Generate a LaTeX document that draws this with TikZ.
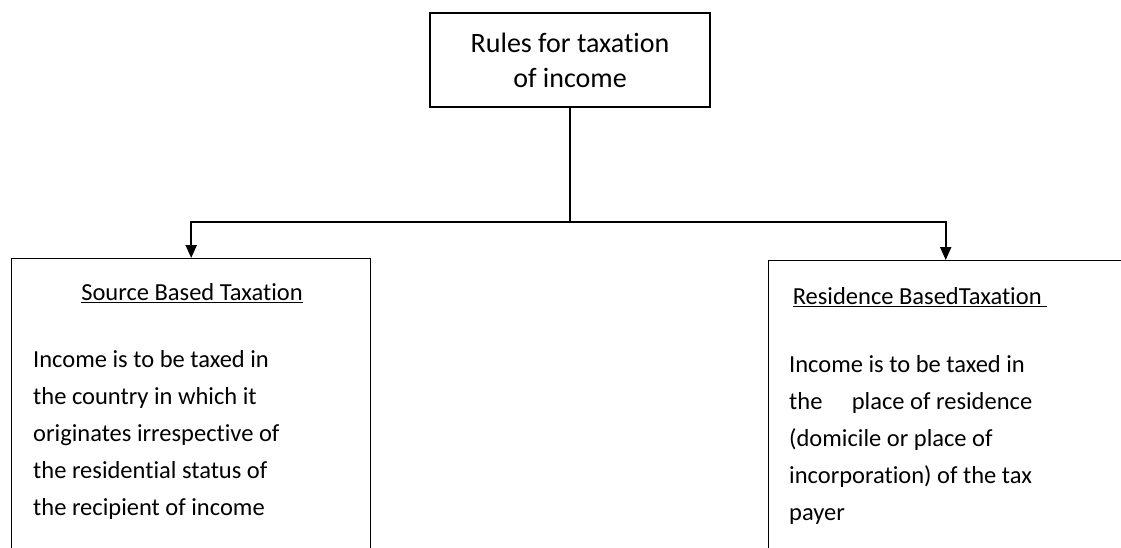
\documentclass[tikz,border=0pt]{standalone}
\usepackage{fontspec}
\setmainfont{Carlito}[Ligatures=NoCommon]
\usepackage{tikz}
\usetikzlibrary{arrows.meta,positioning}

\tikzset{
	box/.style={draw, line width=1.4pt, inner sep=0pt},
	txt/.style={inner sep=0pt, font=\fontsize{24.5}{37}\selectfont, align=left},
	link/.style={line width=2.2pt},
	arrow/.style={link, -{Triangle[length=13pt,width=11pt]}}
}

\begin{document}
\begin{tikzpicture}[x=1pt,y=-1pt]
	\path[use as bounding box, clip] (0,0) rectangle (1121,548);
	\node [box, minimum width=280pt, minimum height=94pt, align=center, font=\fontsize{28}{35}\selectfont] (rules) at (570,60) {Rules for taxation\\of income};
	\node [box, minimum width=359pt, minimum height=320pt, anchor=north west] (srcbox) at (11,258) {};
	\node [box, minimum width=354pt, minimum height=320pt, anchor=north west] (resbox) at (768,260) {};
	\coordinate (split) at (570,222);
	\node [txt] (srchead) at (192,293) {\underline{Source Based Taxation}};
	\node [txt] (reshead) at (920,297) {\underline{Residence BasedTaxation\ }};
	\node [txt, anchor=north west] (srctext) at (33,350) {Income is to be taxed in\\the country in which it\\originates irrespective of\\the residential status of\\the recipient of income};
	\node [txt, anchor=north west] (restext) at (789,355) {Income is to be taxed in\\the\hspace{1.2em}place of residence\\(domicile or place of\\incorporation) of the tax\\payer};
	\draw [link] (rules.south) -- (split);
	\draw [arrow] (split) -| (srcbox.north);
	\draw [arrow] (split) -| (resbox.north);
\end{tikzpicture}
\end{document}
